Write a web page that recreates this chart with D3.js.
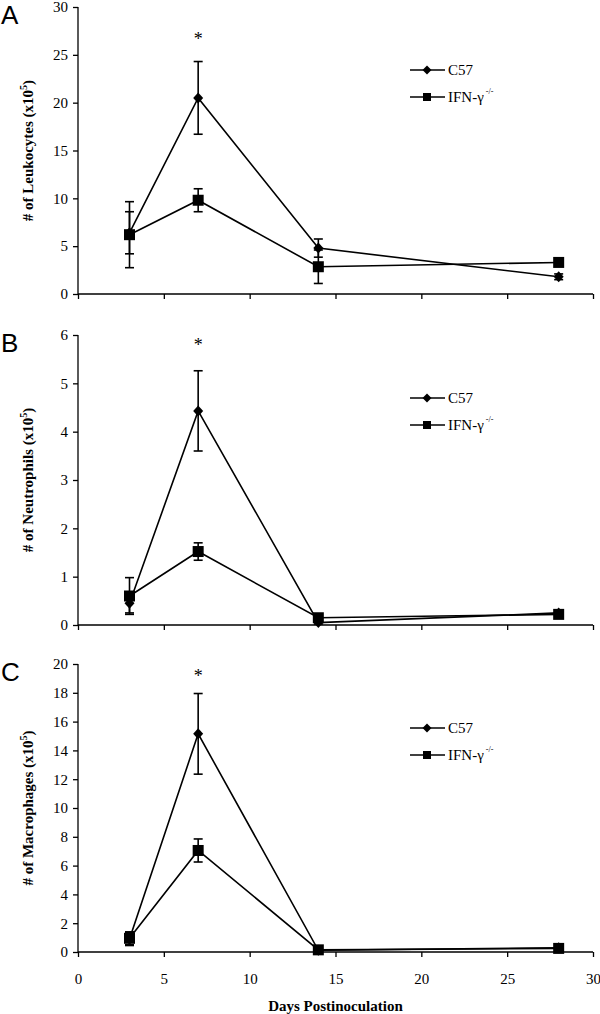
<!DOCTYPE html>
<html><head><meta charset="utf-8">
<script src="https://cdn.jsdelivr.net/npm/d3@7"></script>
<style>body{margin:0;background:#fff}svg{display:block}
svg text{font-family:"Liberation Serif" !important}
svg text.letter{font-family:"Liberation Sans" !important}
</style>
</head><body>
<script>
// ---- data ----
const days = [3, 7, 14, 28];
const seriesNames = ["C57", "IFN-γ"];
const xTicks = [0, 5, 10, 15, 20, 25, 30];

const leukC57 = [6.4, 20.5, 4.8, 1.8];
const leukC57Err = [2.2, 3.8, 0.95, 0.3];
const leukIFN = [6.2, 9.8, 2.85, 3.3];
const leukIFNErr = [3.45, 1.2, 1.75, 0.2];
const leukTicks = [0, 5, 10, 15, 20, 25, 30];

const neutC57 = [0.45, 4.43, 0.05, 0.25];
const neutC57Err = [0.2, 0.83, 0.03, 0.04];
const neutIFN = [0.6, 1.52, 0.15, 0.22];
const neutIFNErr = [0.38, 0.18, 0.05, 0.04];
const neutTicks = [0, 1, 2, 3, 4, 5, 6];

const macC57 = [0.9, 15.15, 0.12, 0.3];
const macC57Err = [0.45, 2.8, 0.05, 0.1];
const macIFN = [0.95, 7.05, 0.15, 0.25];
const macIFNErr = [0.45, 0.8, 0.05, 0.08];
const macTicks = [0, 2, 4, 6, 8, 10, 12, 14, 16, 18, 20];

const panelLetters = ["A", "B", "C"];
const yTitles = ["Leukocytes", "Neutrophils", "Macrophages"];
const starValues = [27.0, 5.85, 19.4]; // significance marker at day 7
const starDay = 7;

const panels = [
  {letter: panelLetters[0], title: yTitles[0], c57: leukC57, c57e: leukC57Err, ifn: leukIFN, ifne: leukIFNErr, ticks: leukTicks, star: starValues[0], top: 7, bottom: 294, legY: 70, showX: false},
  {letter: panelLetters[1], title: yTitles[1], c57: neutC57, c57e: neutC57Err, ifn: neutIFN, ifne: neutIFNErr, ticks: neutTicks, star: starValues[1], top: 335, bottom: 625, legY: 398, showX: false},
  {letter: panelLetters[2], title: yTitles[2], c57: macC57, c57e: macC57Err, ifn: macIFN, ifne: macIFNErr, ticks: macTicks, star: starValues[2], top: 664, bottom: 952, legY: 728, showX: true}
];

const W = 600, H = 1014;
const FONT = "Liberation Serif";
const svg = d3.select("body").append("svg").attr("width", W).attr("height", H).attr("font-family", FONT);
const x = d3.scaleLinear().domain([0, 30]).range([78, 593]);

panels.forEach(p => {
  const ymax = p.ticks[p.ticks.length - 1];
  const y = d3.scaleLinear().domain([0, ymax]).range([p.bottom, p.top]);
  const g = svg.append("g");

  // axes
  const ya = g.append("g").attr("transform", `translate(${x(0)},0)`)
    .call(d3.axisLeft(y).tickValues(p.ticks).tickSize(5).tickPadding(5).tickFormat(d3.format("d")));
  const xa = g.append("g").attr("transform", `translate(0,${y(0)})`)
    .call(d3.axisBottom(x).tickValues(xTicks).tickSize(5).tickPadding(16).tickFormat(p.showX ? d3.format("d") : ""));
  [ya, xa].forEach(a => {
    a.attr("font-family", FONT).attr("font-size", 15);
    a.select(".domain").attr("stroke", "#000").attr("stroke-width", 1.3);
    a.selectAll(".tick line").attr("stroke", "#000").attr("stroke-width", 1.3);
    a.selectAll("text").attr("font-family", FONT).attr("font-size", 15).attr("fill", "#000");
  });
  ya.select(".domain").attr("d", `M0,${p.top}V${p.bottom}`);
  xa.select(".domain").attr("d", `M${x(0)},0H${x(30)}`);

  // y title
  const t = g.append("text")
    .attr("transform", `translate(33,${(p.top + p.bottom) / 2}) rotate(-90)`)
    .attr("text-anchor", "middle").attr("font-family", FONT).attr("font-weight", "bold").attr("font-size", 15);
  t.append("tspan").text(`# of ${p.title} (x10`);
  t.append("tspan").text("5").attr("font-size", 10).attr("dy", -6);
  t.append("tspan").text(")").attr("dy", 6);

  // panel letter
  g.append("text").attr("class", "letter").attr("x", 1).attr("y", p.top + 17)
    .attr("font-family", "Liberation Sans").attr("font-size", 26).text(p.letter);

  // series
  const series = [
    {vals: p.ifn, err: p.ifne, shape: "square"},
    {vals: p.c57, err: p.c57e, shape: "diamond"}
  ];
  const line = d3.line().x((d, i) => x(days[i])).y(d => y(d));
  series.forEach(s => {
    g.append("path").datum(s.vals).attr("d", line).attr("fill", "none").attr("stroke", "#000").attr("stroke-width", 1.6);
  });
  series.forEach(s => {
    s.vals.forEach((v, i) => {
      const cx = x(days[i]);
      const y1 = y(v + s.err[i]), y2 = y(Math.max(0, v - s.err[i]));
      g.append("line").attr("x1", cx).attr("x2", cx).attr("y1", y1).attr("y2", y2).attr("stroke", "#000").attr("stroke-width", 1.6);
      [y1, y2].forEach(yy => g.append("line").attr("x1", cx - 4.5).attr("x2", cx + 4.5).attr("y1", yy).attr("y2", yy).attr("stroke", "#000").attr("stroke-width", 1.6));
    });
  });
  series.forEach(s => {
    s.vals.forEach((v, i) => {
      const cx = x(days[i]), cy = y(v);
      if (s.shape === "square") {
        g.append("rect").attr("x", cx - 5.5).attr("y", cy - 5.5).attr("width", 11).attr("height", 11).attr("fill", "#000");
      } else {
        g.append("path").attr("d", `M${cx},${cy - 5.5}L${cx + 5},${cy}L${cx},${cy + 5.5}L${cx - 5},${cy}Z`).attr("fill", "#000");
      }
    });
  });

  // star
  g.append("text").attr("x", x(starDay)).attr("y", y(p.star) + 9).attr("text-anchor", "middle")
    .attr("font-family", FONT).attr("font-size", 18).text("*");

  // legend
  const lx1 = 410, lx2 = 445, lm = 427;
  const l1 = p.legY, l2 = p.legY + 27;
  g.append("line").attr("x1", lx1).attr("x2", lx2).attr("y1", l1).attr("y2", l1).attr("stroke", "#000").attr("stroke-width", 1.6);
  g.append("path").attr("d", `M${lm},${l1 - 4.5}L${lm + 4.5},${l1}L${lm},${l1 + 4.5}L${lm - 4.5},${l1}Z`).attr("fill", "#000");
  g.append("text").attr("x", 448).attr("y", l1 + 5).attr("font-family", FONT).attr("font-size", 15).text(seriesNames[0]);
  g.append("line").attr("x1", lx1).attr("x2", lx2).attr("y1", l2).attr("y2", l2).attr("stroke", "#000").attr("stroke-width", 1.6);
  g.append("rect").attr("x", lm - 4).attr("y", l2 - 4).attr("width", 8).attr("height", 8).attr("fill", "#000");
  const lt = g.append("text").attr("x", 448).attr("y", l2 + 5).attr("font-family", FONT).attr("font-size", 15);
  lt.append("tspan").text(seriesNames[1]);
  lt.append("tspan").text("-/-").attr("font-size", 8).attr("dy", -8).attr("dx", 2);

  if (p.showX) {
    svg.append("text").attr("x", (x(0) + x(30)) / 2).attr("y", 1011).attr("text-anchor", "middle")
      .attr("font-family", FONT).attr("font-weight", "bold").attr("font-size", 15).text("Days Postinoculation");
  }
});
</script>
</body></html>
